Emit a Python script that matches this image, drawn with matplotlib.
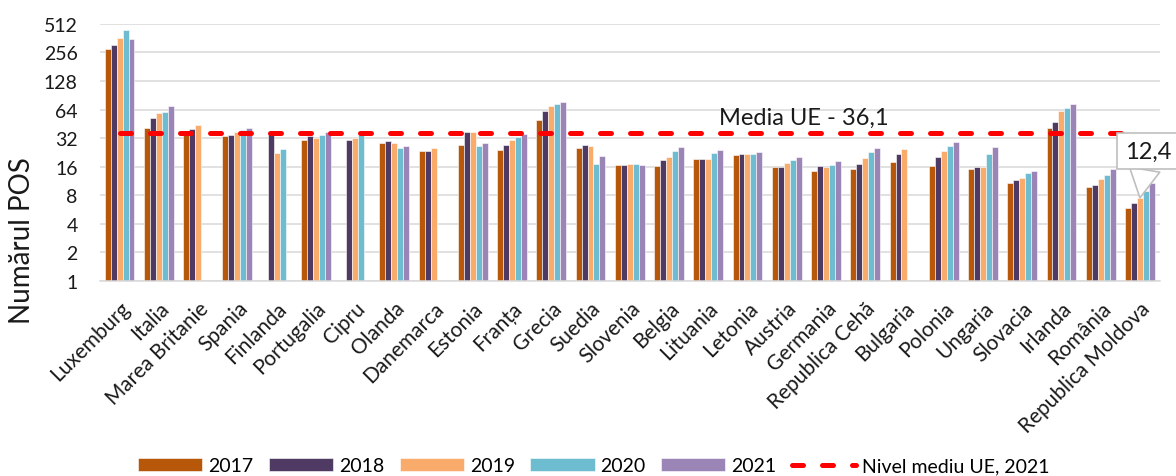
import numpy as np
import matplotlib
matplotlib.use("Agg")
import matplotlib.pyplot as plt
from matplotlib.ticker import FixedLocator, FixedFormatter, NullLocator

plt.rcParams['font.family'] = ['Lato', 'DejaVu Sans']

nan = np.nan

tari = ['Luxemburg', 'Italia', 'Marea Britanie', 'Spania', 'Finlanda', 'Portugalia',
        'Cipru', 'Olanda', 'Danemarca', 'Estonia', 'Franța', 'Grecia', 'Suedia',
        'Slovenia', 'Belgia', 'Lituania', 'Letonia', 'Austria', 'Germania',
        'Republica Cehă', 'Bulgaria', 'Polonia', 'Ungaria', 'Slovacia', 'Irlanda',
        'România', 'Republica Moldova']

ani = ['2017', '2018', '2019', '2020', '2021']

pos_2017 = [279, 40.6, 35, 33.4, nan, 30.8, nan, 28.4, 23.2, 27.1, 24, 50.1, 25,
            16.6, 16.2, 19.1, 21.4, 16, 14.4, 15.1, 17.8, 16.1, 15.1, 10.7, 40.9,
            9.8, 5.9]
pos_2018 = [307, 52, 40, 34.8, 36.2, 33.4, 30.5, 30, 23.4, 36.8, 27.1, 62.3, 26.9,
            16.8, 18.8, 19.3, 22, 15.9, 16.2, 17.2, 22, 20.2, 15.7, 11.6, 47,
            10.3, 6.6]
pos_2019 = [362, 59, 44.3, 36.8, 22.4, 31.9, 32, 28.4, 25, 36.8, 30.8, 69, 26.7,
            17, 20.2, 19.2, 21.6, 17.6, 16, 19.6, 24.5, 23.4, 16, 12.2, 62.3,
            11.8, 7.5]
pos_2020 = [440, 60.8, nan, 38.7, 24.4, 34.5, 34.8, 25.2, nan, 26.4, 33.1, 73.4, 17,
            17, 23.4, 22.3, 21.8, 18.8, 16.8, 22.7, nan, 26.7, 21.7, 13.7, 66,
            13.2, 8.9]
pos_2021 = [356, 69, nan, 40.9, nan, 37.1, nan, 26.2, nan, 28.4, 35.6, 77.5, 20.6,
            16.6, 25.8, 24, 22.8, 20.4, 18.4, 25.2, nan, 29.1, 25.8, 14.4, 73.4,
            15.1, 10.7]

medie_ue = 36.1
eticheta_moldova = '12,4'

culori = ['#B7570A', '#4E3A62', '#F9AB6B', '#6DBCD0', '#9B85B6']
serii = [pos_2017, pos_2018, pos_2019, pos_2020, pos_2021]

fig = plt.figure(figsize=(11.76, 4.77), dpi=100)
ax = fig.add_axes([0.085, 0.409, 0.901, 0.539])

x = np.arange(len(tari))
latime = 0.152
for k, (an, vals, c) in enumerate(zip(ani, serii, culori)):
    ax.bar(x + (k - 2) * latime, vals, width=latime, color=c,
           edgecolor='white', linewidth=0.4, label=an, zorder=2)

# linia cu media UE
linie, = ax.plot(x, [medie_ue] * len(x), color='#FF0000', lw=3.6,
                 dashes=(2.2, 3.8), dash_capstyle='round', zorder=3,
                 label='Nivel mediu UE, 2021')

ax.annotate('Media UE - ' + str(medie_ue).replace('.', ','), xy=(17.43, medie_ue),
            xytext=(0, 4), textcoords='offset points', ha='center', va='bottom',
            fontsize=17, color='#1a1a1a')

ax.annotate(eticheta_moldova, xy=(26, pos_2019[-1]), xytext=(26.2, 23.4),
            ha='center', va='center', fontsize=17, color='#1a1a1a',
            bbox=dict(boxstyle='square,pad=0.32', fc='white', ec='#BFBFBF', lw=1.2),
            arrowprops=dict(arrowstyle='wedge,tail_width=1.3', fc='white',
                            ec='#BFBFBF', lw=1.2, shrinkA=0, shrinkB=0),
            annotation_clip=False, zorder=5)

ax.set_yscale('log', base=2)
ax.set_ylim(1, 512)
ax.set_xlim(-0.5, len(tari) - 0.5)
ticks = [1, 2, 4, 8, 16, 32, 64, 128, 256, 512]
ax.yaxis.set_major_locator(FixedLocator(ticks))
ax.yaxis.set_major_formatter(FixedFormatter([str(t) for t in ticks]))
ax.yaxis.set_minor_locator(NullLocator())
ax.tick_params(axis='y', length=0, pad=16, labelsize=14, labelcolor='#1a1a1a')
ax.grid(axis='y', color='#D9D9D9', lw=1.1, zorder=0)
ax.set_axisbelow(True)

ax.set_xticks(x)
ax.set_xticklabels(tari, rotation=45, ha='right', rotation_mode='anchor',
                   fontsize=15, color='#1a1a1a')
ax.tick_params(axis='x', length=0, pad=12)

for s in ['top', 'right', 'left']:
    ax.spines[s].set_visible(False)
ax.spines['bottom'].set_color('#D9D9D9')
ax.spines['bottom'].set_linewidth(1.1)

ax.set_ylabel('Numărul POS', fontsize=20, color='#1a1a1a')
ax.yaxis.set_label_coords(-0.061, 0.16)

handles, labels = ax.get_legend_handles_labels()
ordine = [labels.index(a) for a in ani] + [labels.index('Nivel mediu UE, 2021')]
fig.legend([handles[i] for i in ordine], [labels[i] for i in ordine],
           loc='center', bbox_to_anchor=(0.505, 0.021), ncol=6, frameon=False,
           fontsize=14, handlelength=3.3, handleheight=0.62, handletextpad=0.3,
           columnspacing=0.8)

fig.savefig('out.png', dpi=100)
